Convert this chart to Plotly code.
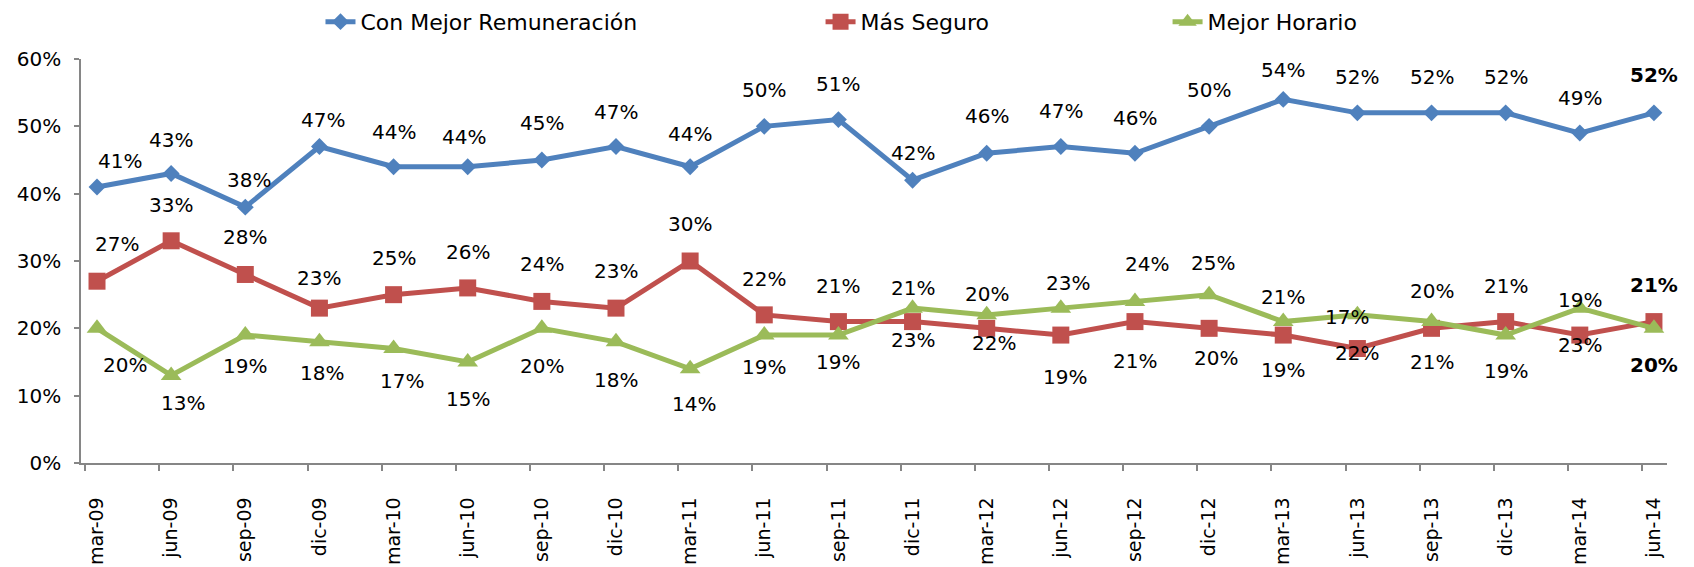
import plotly.graph_objects as go

categories = ["mar-09", "jun-09", "sep-09", "dic-09", "mar-10", "jun-10", "sep-10", "dic-10",
              "mar-11", "jun-11", "sep-11", "dic-11", "mar-12", "jun-12", "sep-12", "dic-12",
              "mar-13", "jun-13", "sep-13", "dic-13", "mar-14", "jun-14"]
remuneracion = [41, 43, 38, 47, 44, 44, 45, 47, 44, 50, 51, 42, 46, 47, 46, 50, 54, 52, 52, 52, 49, 52]
seguro = [27, 33, 28, 23, 25, 26, 24, 23, 30, 22, 21, 21, 20, 19, 21, 20, 19, 17, 20, 21, 19, 21]
horario = [20, 13, 19, 18, 17, 15, 20, 18, 14, 19, 19, 23, 22, 23, 24, 25, 21, 22, 21, 19, 23, 20]
y_ticks = [0, 10, 20, 30, 40, 50, 60]

names = ["Con Mejor Remuneración", "Más Seguro", "Mejor Horario"]
colors = ["#4F81BD", "#C0504D", "#9BBB59"]
symbols = ["diamond", "square", "triangle-up"]
msizes = [13, 17, 18]

# label nudges (pixels): positive dy = up
blue_dy = [26, 33, 27, 27, 35, 30, 37, 35, 33, 36, 36, 27, 37, 36, 35, 36, 29, 36, 36, 36, 35, 38]
blue_dx = [23, 0, 4, 4, 0, -4, 0, 0, 0, 0, 0, 0, 0, 0, 0, 0, 0, 0, 0, 0, 0, 0]
red_dy = [37, 36, 37, 30, 37, 36, 37, 37, 37, 36, 36, 34, 34, -42, -39, -30, -35, 32, 37, 36, 35, 37]
red_dx = [20, 0, 0, 0, 0, 0, 0, 0, 0, 0, 0, 0, 0, 4, 0, 7, 0, -10, 0, 0, 0, 0]
green_dy = [-37, -28, -31, -31, -32, -37, -38, -38, -35, -32, -27, -32, -28, 25, 37, 32, 25, -38, -40, -36, -37, -37]
green_dx = [28, 12, 0, 3, 8, 0, 0, 0, 4, 0, 0, 0, 7, 7, 12, 4, 0, 0, 0, 0, 0, 0]

FONT = "DejaVu Sans"
xs = list(range(len(categories)))
series = [remuneracion, seguro, horario]
dys = [blue_dy, red_dy, green_dy]
dxs = [blue_dx, red_dx, green_dx]
legends = ["legend", "legend2", "legend3"]

fig = go.Figure()
for k in range(3):
    fig.add_trace(go.Scatter(
        x=xs, y=series[k], mode="lines+markers", name=names[k],
        line=dict(color=colors[k], width=5),
        marker=dict(symbol=symbols[k], size=msizes[k], color=colors[k]),
        legend=legends[k], hoverinfo="skip"))

# invisible trace for the tick-mark axis
fig.add_trace(go.Scatter(x=[0], y=[0], xaxis="x2", mode="markers",
                         marker=dict(opacity=0), showlegend=False, hoverinfo="skip"))

annotations = []
for k in range(3):
    vals = series[k]
    for i, v in enumerate(vals):
        last = i == len(vals) - 1
        txt = f"{v}%"
        if last:
            txt = f"<b>{v}%</b>"
        annotations.append(dict(
            x=i, y=v, xref="x", yref="y", text=txt, showarrow=False,
            xanchor="center", yanchor="middle",
            xshift=dxs[k][i], yshift=dys[k][i],
            font=dict(family=FONT, size=20, color="#000000")))

xr = [-0.216, 21.176]
legend_font = dict(family=FONT, size=22, color="#000000")
fig.update_layout(
    width=1686, height=559,
    margin=dict(l=73, r=27, t=51, b=104, autoexpand=False),
    paper_bgcolor="white", plot_bgcolor="white",
    font=dict(family=FONT, size=20, color="#000000"),
    annotations=annotations,
    xaxis=dict(range=xr, tickmode="array", tickvals=xs, ticktext=categories,
               tickangle=-90, ticks="", showgrid=False, zeroline=False,
               showline=True, linecolor="#868686", linewidth=1.5,
               ticklabelstandoff=25,
               tickfont=dict(family=FONT, size=19, color="#000000")),
    xaxis2=dict(range=xr, overlaying="x", tickmode="array",
                tickvals=[i - 0.16 for i in xs], ticks="outside", ticklen=7,
                tickcolor="#868686", tickwidth=1.5, showticklabels=False,
                showgrid=False, zeroline=False, showline=False, side="bottom"),
    yaxis=dict(range=[0, 60], tickmode="array", tickvals=y_ticks,
               ticktext=[f"{t}%" for t in y_ticks], ticks="outside", ticklen=5,
               tickcolor="#868686", tickwidth=1.5,
               showgrid=False, zeroline=False, showline=True, linecolor="#868686",
               linewidth=1.5, ticklabelstandoff=9,
               tickfont=dict(family=FONT, size=20, color="#000000")),
    legend=dict(x=0.1510, y=1.092, xanchor="left", yanchor="middle",
                font=legend_font, bgcolor="rgba(0,0,0,0)"),
    legend2=dict(x=0.4663, y=1.092, xanchor="left", yanchor="middle",
                 font=legend_font, bgcolor="rgba(0,0,0,0)"),
    legend3=dict(x=0.6851, y=1.092, xanchor="left", yanchor="middle",
                 font=legend_font, bgcolor="rgba(0,0,0,0)"),
    showlegend=True,
)

fig.write_html("out.html")
